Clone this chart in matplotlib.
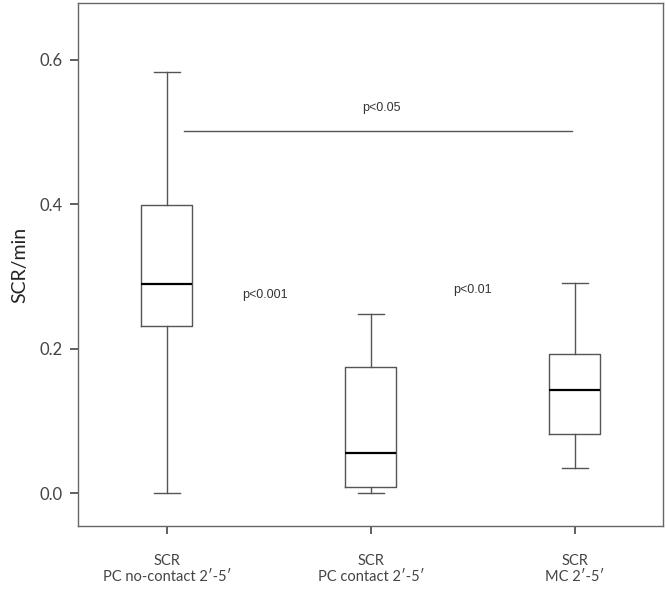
import matplotlib
matplotlib.use("Agg")
import matplotlib.pyplot as plt

groups = ["SCR\nPC no-contact 2\u2032-5\u2032", "SCR\nPC contact 2\u2032-5\u2032", "SCR\nMC 2\u2032-5\u2032"]
whislo = [0.0, 0.0, 0.035]
q1 = [0.231, 0.008, 0.082]
med = [0.290, 0.055, 0.143]
q3 = [0.399, 0.175, 0.193]
whishi = [0.583, 0.248, 0.291]

p_labels = ["p<0.05", "p<0.001", "p<0.01"]

stats = []
for i in range(len(groups)):
    stats.append(dict(whislo=whislo[i], q1=q1[i], med=med[i], q3=q3[i], whishi=whishi[i], fliers=[]))

plt.rcParams['font.family'] = ['Lato', 'DejaVu Sans']

fig = plt.figure(figsize=(6.66, 5.9), dpi=100)
ax = fig.add_axes([0.117, 0.108, 0.878, 0.887])

lc = '#555555'
ax.bxp(stats, positions=[1, 2, 3], widths=0.25, showfliers=False,
       boxprops=dict(color=lc, linewidth=1.0),
       whiskerprops=dict(color=lc, linewidth=1.0),
       capprops=dict(color=lc, linewidth=1.0),
       medianprops=dict(color='black', linewidth=1.6),
       capwidths=0.13)

# significance annotations
ax.plot([1.083, 2.985], [0.502, 0.502], color=lc, linewidth=1.0)
ax.text(2.05, 0.534, p_labels[0], ha='center', va='center', fontsize=9, family='Liberation Sans', color='#333333')
ax.text(1.48, 0.274, p_labels[1], ha='center', va='center', fontsize=9, family='Liberation Sans', color='#333333')
ax.text(2.5, 0.281, p_labels[2], ha='center', va='center', fontsize=9, family='Liberation Sans', color='#333333')

ax.set_xlim(0.564, 3.43)
ax.set_ylim(-0.046, 0.679)
ax.set_yticks([0.0, 0.2, 0.4, 0.6])
ax.set_yticklabels(["0.0", "0.2", "0.4", "0.6"])
ax.set_xticks([1, 2, 3])
ax.set_xticklabels(groups)
ax.tick_params(axis='both', colors='#444444', length=6, width=1.2)
ax.tick_params(axis='y', labelsize=12, pad=5)
ax.tick_params(axis='x', labelsize=10.5, pad=14)
for s in ax.spines.values():
    s.set_color('#666666')
    s.set_linewidth(1.0)
ax.set_ylabel("SCR/min", fontsize=14, color='#222222', labelpad=8)

fig.savefig("out.png", dpi=100)
